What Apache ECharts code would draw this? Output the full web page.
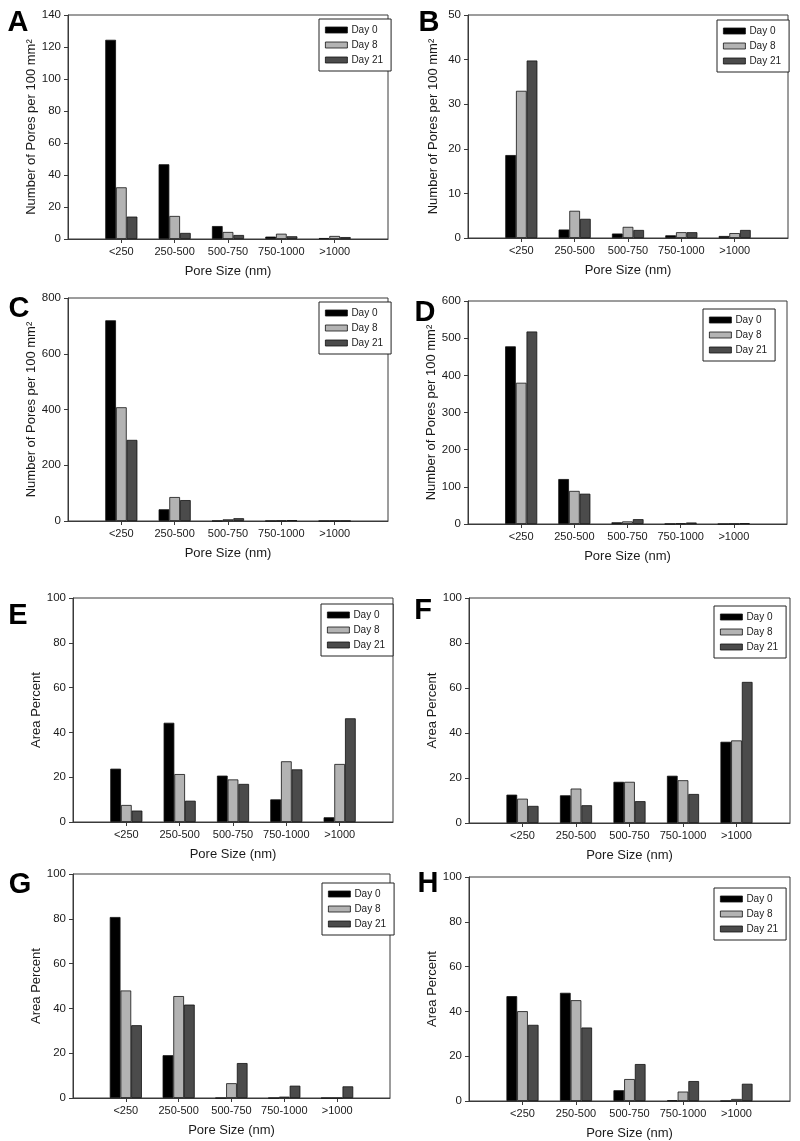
<!DOCTYPE html>
<html>
<head>
<meta charset="utf-8">
<script src="https://cdn.jsdelivr.net/npm/echarts@6/dist/echarts.min.js"></script>
<style>
html,body{margin:0;padding:0;background:#fff;}
#chart{width:800px;height:1141px;}
</style>
</head>
<body>
<div id="chart"></div>
<script>
// ---- data ----
var categories = ['<250', '250-500', '500-750', '750-1000', '>1000'];
var seriesNames = ['Day 0', 'Day 8', 'Day 21'];

var A_day0 = [124.5, 46.7, 8.1, 1.5, 0.6];
var A_day8 = [32.3, 14.4, 4.4, 3.3, 1.9];
var A_day21 = [14.0, 3.8, 2.5, 1.7, 1.2];

var B_day0 = [18.6, 1.9, 1.0, 0.6, 0.45];
var B_day8 = [33.0, 6.1, 2.5, 1.3, 1.1];
var B_day21 = [39.8, 4.3, 1.8, 1.3, 1.8];

var C_day0 = [720, 42, 0.5, 0.3, 0.2];
var C_day8 = [408, 86, 6, 1, 0.3];
var C_day21 = [291, 75, 10, 3, 0.5];

var D_day0 = [478, 121, 4.5, 0.5, 0];
var D_day8 = [380, 89, 7, 1.5, 0.5];
var D_day21 = [518, 81.5, 13, 4, 2];

var E_day0 = [23.8, 44.3, 20.7, 10.1, 2.1];
var E_day8 = [7.6, 21.4, 19.0, 27.1, 25.9];
var E_day21 = [5.1, 9.5, 17.0, 23.5, 46.3];

var F_day0 = [12.6, 12.3, 18.3, 21.0, 36.1];
var F_day8 = [10.8, 15.3, 18.3, 19.0, 36.7];
var F_day21 = [7.6, 7.9, 9.7, 12.9, 62.7];

var G_day0 = [80.8, 19.1, 0, 0, 0];
var G_day8 = [48.0, 45.5, 6.6, 0.6, 0];
var G_day21 = [32.5, 41.7, 15.6, 5.5, 5.2];

var H_day0 = [46.8, 48.3, 4.8, 0.3, 0];
var H_day8 = [40.1, 45.0, 9.8, 4.2, 0.9];
var H_day21 = [34.0, 32.8, 16.5, 8.9, 7.7];

var yMaxA = 140, yStepA = 20;
var yMaxB = 50, yStepB = 10;
var yMaxC = 800, yStepC = 200;
var yMaxD = 600, yStepD = 100;
var yMaxPct = 100, yStepPct = 20;

var xTitle = 'Pore Size (nm)';
var yTitleCount = 'Number of Pores per 100 mm\u00B2';
var yTitlePct = 'Area Percent';

// ---- panels ----
var panels = [
  {letter:'A', d:[A_day0,A_day8,A_day21], max:yMaxA, step:yStepA, yname:yTitleCount,
   grid:{left:68, top:15, width:320, height:224}, legend:[319,19], L:[18,23]},
  {letter:'B', d:[B_day0,B_day8,B_day21], max:yMaxB, step:yStepB, yname:yTitleCount,
   grid:{left:468, top:15, width:320, height:223}, legend:[717,20], L:[429,23]},
  {letter:'C', d:[C_day0,C_day8,C_day21], max:yMaxC, step:yStepC, yname:yTitleCount,
   grid:{left:68, top:298, width:320, height:223}, legend:[319,302], L:[19,309]},
  {letter:'D', d:[D_day0,D_day8,D_day21], max:yMaxD, step:yStepD, yname:yTitleCount,
   grid:{left:468, top:301, width:319, height:223}, legend:[703,309], L:[425,313]},
  {letter:'E', d:[E_day0,E_day8,E_day21], max:yMaxPct, step:yStepPct, yname:yTitlePct,
   grid:{left:73, top:598, width:320, height:224}, legend:[321,604], L:[18,616]},
  {letter:'F', d:[F_day0,F_day8,F_day21], max:yMaxPct, step:yStepPct, yname:yTitlePct,
   grid:{left:469, top:598, width:321, height:225}, legend:[714,606], L:[423,611]},
  {letter:'G', d:[G_day0,G_day8,G_day21], max:yMaxPct, step:yStepPct, yname:yTitlePct,
   grid:{left:73, top:874, width:317, height:224}, legend:[322,883], L:[20,885]},
  {letter:'H', d:[H_day0,H_day8,H_day21], max:yMaxPct, step:yStepPct, yname:yTitlePct,
   grid:{left:469, top:877, width:321, height:224}, legend:[714,888], L:[428,884]}
];

var colors = ['#000000', '#b3b3b3', '#4b4b4b'];
var FONT = 'Liberation Sans, Arial, sans-serif';
var axisColor = '#3a3a3a';
var cats = [''].concat(categories).concat(['']);
function pad(a){ return [null].concat(a).concat([null]); }

var option = {
  backgroundColor:'#ffffff',
  animation:false,
  textStyle:{fontFamily:FONT},
  grid:[], xAxis:[], yAxis:[], series:[], legend:[], graphic:[]
};

panels.forEach(function(p, i){
  option.grid.push({left:p.grid.left, top:p.grid.top, width:p.grid.width, height:p.grid.height,
    show:true, borderColor:axisColor, borderWidth:1, backgroundColor:'transparent', containLabel:false});
  option.xAxis.push({
    type:'category', gridIndex:i, data:cats, boundaryGap:false,
    name:xTitle, nameLocation:'middle', nameGap:26,
    nameTextStyle:{fontSize:13, color:'#1a1a1a', fontFamily:FONT},
    axisLine:{show:true, lineStyle:{color:axisColor, width:1}},
    axisTick:{show:true, length:4, lineStyle:{color:axisColor},
      interval:function(idx){ return idx > 0 && idx < cats.length - 1; }},
    axisLabel:{interval:0, fontSize:11, color:'#1a1a1a', margin:7, fontFamily:FONT},
    splitLine:{show:false}
  });
  option.yAxis.push({
    type:'value', gridIndex:i, min:0, max:p.max, interval:p.step,
    name:p.yname, nameLocation:'middle', nameGap:28, nameRotate:90,
    nameTextStyle:{fontSize:13, color:'#1a1a1a', fontFamily:FONT},
    axisLine:{show:true, lineStyle:{color:axisColor, width:1}},
    axisTick:{show:true, inside:false, length:4, lineStyle:{color:axisColor}},
    axisLabel:{fontSize:11.5, color:'#1a1a1a', margin:7, fontFamily:FONT},
    splitLine:{show:false}
  });
  p.d.forEach(function(arr, k){
    option.series.push({
      type:'bar', name:seriesNames[k], xAxisIndex:i, yAxisIndex:i,
      data:pad(arr), barWidth:10.7, barGap:'0%',
      itemStyle:{color:colors[k], borderColor:'#111', borderWidth:0.8},
      emphasis:{disabled:true}
    });
  });
  option.legend.push({
    data:seriesNames, orient:'vertical', left:p.legend[0], top:p.legend[1],
    icon:'rect', itemWidth:22, itemHeight:6, itemGap:5, padding:[6,8,6,6],
    borderColor:'#222', borderWidth:1, backgroundColor:'#fff',
    textStyle:{fontSize:10, color:'#1a1a1a', fontFamily:FONT, padding:[0,0,0,-1]},
    itemStyle:{borderColor:'#111', borderWidth:0.8},
    selectedMode:false
  });
  option.graphic.push({
    type:'text', x:p.L[0], y:p.L[1],
    style:{text:p.letter, font:'bold 29px ' + FONT, fill:'#000', textAlign:'center', textVerticalAlign:'middle'}
  });
});

var chart = echarts.init(document.getElementById('chart'), null, {renderer:'canvas'});
chart.setOption(option);
</script>
</body>
</html>
